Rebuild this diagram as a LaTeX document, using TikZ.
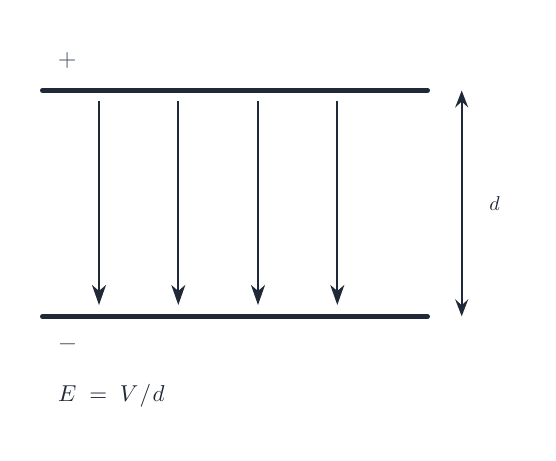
\documentclass[tikz,border=0pt]{standalone}
\usepackage{graphicx}
\usetikzlibrary{arrows.meta}
\definecolor{ink}{HTML}{1F2937}
\definecolor{txt}{HTML}{1F2937}
\definecolor{sgn}{HTML}{4B5563}
\begin{document}
\begin{tikzpicture}[x=1pt,y=-1pt,
  plate/.style={line width=5pt,line cap=round,draw=ink},
  field/.style={line width=2pt,draw=ink,-{Stealth[length=20pt,width=14pt,inset=6pt]}},
  dim/.style={line width=2pt,draw=ink,{Stealth[length=17pt,width=13pt,inset=6pt]}-{Stealth[length=17pt,width=13pt,inset=6pt]}},
  lbl/.style={inner sep=0pt,text=txt}]
\useasboundingbox (0,0) rectangle (556,460);
\fill[white] (0,0) rectangle (556,460);
% plates
\coordinate (tl) at (42.5,90.2);
\coordinate (tr) at (427.5,90.2);
\coordinate (bl) at (42.5,316.6);
\coordinate (br) at (427.5,316.6);
\draw[plate] (tl) -- (tr);
\draw[plate] (bl) -- (br);
% field lines
\foreach \i/\x in {1/99,2/178.3,3/258,4/337.3}{
  \coordinate (s\i) at (\x,100.5);
  \coordinate (e\i) at (\x,305);
  \draw[field] (s\i) -- (e\i);
}
% dimension
\coordinate (dt) at (461.7,90.5);
\coordinate (db) at (461.7,316.3);
\draw[dim] (dt) -- (db);
\node[lbl,anchor=base] (dl) at (494.5,210.5) {\scalebox{2.0}{$d$}};
% signs
\node[lbl,text=sgn] (plus) at (67.3,60.9) {\scalebox{2.4}{$+$}};
\node[lbl,text=sgn] (minus) at (67.5,344.3) {\scalebox{2.5}{$-$}};
% formula
\node[lbl,anchor=base west] (eq) at (58,401.5) {\scalebox{2.3}{$E\mkern5mu=\mkern5mu V\mkern1mu/\mkern1mu d$}};
\end{tikzpicture}
\end{document}
